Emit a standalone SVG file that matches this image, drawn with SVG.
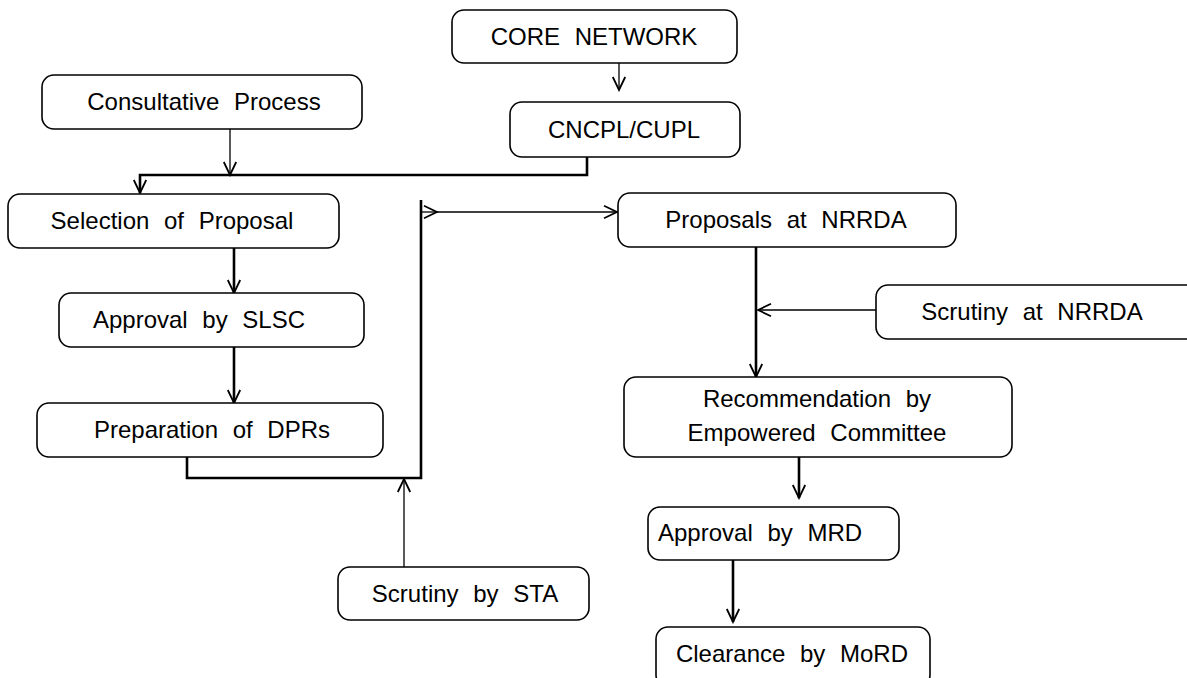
<svg xmlns="http://www.w3.org/2000/svg" width="1187" height="678" viewBox="0 0 1187 678">
<style>
  .box { fill: #ffffff; stroke: #000000; stroke-width: 1.6; }
  .lbl { font-family: "Liberation Sans", Arial, sans-serif; font-size: 24px; fill: #000000; word-spacing: 8px; }
  .mid { text-anchor: middle; }
  .thick { fill: none; stroke: #000000; stroke-width: 2.6; }
  .thin { fill: none; stroke: #000000; stroke-width: 1.3; }
</style>
<defs>
  <marker id="arr" markerUnits="userSpaceOnUse" markerWidth="16" markerHeight="16" refX="14" refY="7" orient="auto" viewBox="0 0 16 14">
    <path d="M1,0.8 L14,7 L1,13.2" fill="none" stroke="#000000" stroke-width="1.8"/>
  </marker>
</defs>
<rect width="1187" height="678" fill="#ffffff"/>

<g id="connectors">
  <path class="thin" d="M619,63 V90" marker-end="url(#arr)"/>
  <path class="thin" d="M230,129 V175" marker-end="url(#arr)"/>
  <path class="thick" d="M587,157 V175 H140 V193" marker-end="url(#arr)"/>
  <path class="thick" d="M234,248 V293" marker-end="url(#arr)"/>
  <path class="thick" d="M234,347 V403" marker-end="url(#arr)"/>
  <path class="thick" d="M187,457 V478 H421 V200"/>
  <path class="thin" d="M421,212 H437" marker-end="url(#arr)"/>
  <path class="thin" d="M437,212 H617" marker-end="url(#arr)"/>
  <path class="thin" d="M404,567 V479" marker-end="url(#arr)"/>
  <path class="thick" d="M756,247 V377" marker-end="url(#arr)"/>
  <path class="thin" d="M876,310 H758" marker-end="url(#arr)"/>
  <path class="thick" d="M799,457 V498" marker-end="url(#arr)"/>
  <path class="thick" d="M733,560 V622" marker-end="url(#arr)"/>
</g>

<g id="core-network">
  <rect class="box" x="452" y="10" width="285" height="53" rx="12"/>
  <text class="lbl mid" x="594" y="45">CORE NETWORK</text>
</g>
<g id="cncpl-cupl">
  <rect class="box" x="510" y="102" width="230" height="55" rx="12"/>
  <text class="lbl mid" x="624" y="138">CNCPL/CUPL</text>
</g>
<g id="consultative-process">
  <rect class="box" x="42" y="75" width="320" height="54" rx="12"/>
  <text class="lbl mid" x="204" y="110">Consultative Process</text>
</g>
<g id="selection-of-proposal">
  <rect class="box" x="8" y="194" width="331" height="54" rx="12"/>
  <text class="lbl mid" x="172" y="229">Selection of Proposal</text>
</g>
<g id="approval-by-slsc">
  <rect class="box" x="59" y="293" width="305" height="54" rx="12"/>
  <text class="lbl mid" x="199" y="328">Approval by SLSC</text>
</g>
<g id="preparation-of-dprs">
  <rect class="box" x="37" y="403" width="346" height="54" rx="12"/>
  <text class="lbl mid" x="212" y="438">Preparation of DPRs</text>
</g>
<g id="scrutiny-by-sta">
  <rect class="box" x="338" y="567" width="251" height="53" rx="12"/>
  <text class="lbl mid" x="465" y="602">Scrutiny by STA</text>
</g>
<g id="proposals-at-nrrda">
  <rect class="box" x="618" y="193" width="338" height="54" rx="12"/>
  <text class="lbl mid" x="786" y="228">Proposals at NRRDA</text>
</g>
<g id="scrutiny-at-nrrda">
  <rect class="box" x="876" y="285" width="330" height="54" rx="12"/>
  <text class="lbl mid" x="1032" y="320">Scrutiny at NRRDA</text>
</g>
<g id="recommendation">
  <rect class="box" x="624" y="377" width="388" height="80" rx="12"/>
  <text class="lbl mid" x="817" y="407">Recommendation by</text>
  <text class="lbl mid" x="817" y="441">Empowered Committee</text>
</g>
<g id="approval-by-mrd">
  <rect class="box" x="648" y="507" width="251" height="53" rx="12"/>
  <text class="lbl" x="658" y="541">Approval by MRD</text>
</g>
<g id="clearance-by-mord">
  <rect class="box" x="656" y="627" width="274" height="60" rx="12"/>
  <text class="lbl mid" x="792" y="662">Clearance by MoRD</text>
</g>
</svg>
